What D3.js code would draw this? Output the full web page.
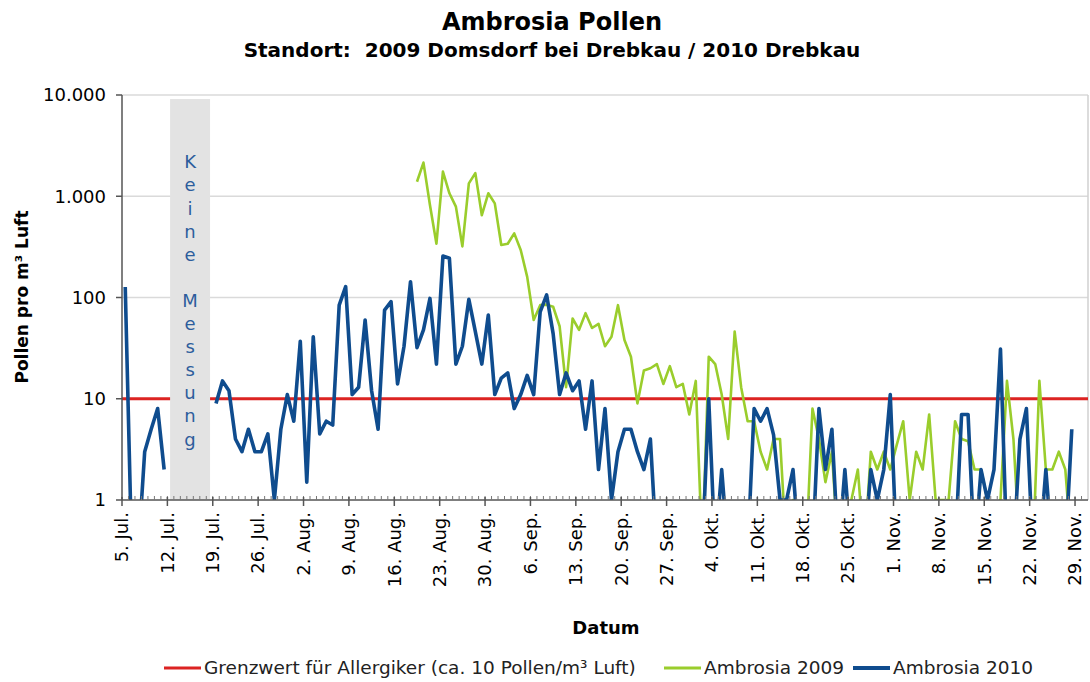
<!DOCTYPE html>
<html>
<head>
<meta charset="utf-8">
<script src="https://cdn.jsdelivr.net/npm/d3@7"></script>
<style>
  body { margin: 0; background: #fff; }
  svg { font-family: "DejaVu Sans", Verdana, sans-serif; }
</style>
</head>
<body>
<div id="chart"></div>
<script>
// Ambrosia Pollen, daily counts (Pollen pro m³ Luft), log axis

const axisStart = new Date(2010, 6, 5)
const axisEnd = new Date(2010, 11, 1)

// 2010 Drebkau, one value per day from 5. Jul. (null = keine Messung, 0 = nichts gefunden)
const start2010 = new Date(2010, 6, 5)
const ambrosia2010 = [
  127, 0, 0, 3, 5, 8, 2,
  null, null, null, null, null, null, null,
  9, 15, 12, 4, 3, 5, 3, 3, 4.5, 1, 5, 11, 6, 37, 1.5, 41, 4.5, 6, 5.5, 84, 128,
  11, 13, 60, 12, 5, 75, 91, 14, 33, 143, 32, 48, 98, 22, 257, 244, 22, 33, 96,
  46, 22, 67, 11, 16, 18, 8, 11, 17, 11, 72, 106, 44, 11, 18, 12, 15, 5, 15, 2,
  8, 1, 3, 5, 5, 3, 2, 4, 0, 0, 0, 0, 0, 0, 0, 0, 10, 0, 2, 0, 0, 0, 0, 8, 6, 8,
  4.4, 1, 1, 2, 0, 0, 0, 8, 2, 5, 0, 2, 0, 0, 0, 2, 1, 2, 11, 0, 0, 0, 0, 0, 0,
  0, 0, 0, 0, 7, 7, 0, 2, 1, 2, 31, 0, 0, 4, 8, 0, 0, 2, 0, 0, 0, 5,
]

// 2009 Domsdorf, one value per day from 19. Aug.
const start2009 = new Date(2010, 7, 19)
const ambrosia2009 = [
  1390, 2150, 820, 340, 1750, 1070, 790, 320, 1340, 1690, 650, 1070, 850, 330,
  340, 430, 295, 160, 60, 84, 85, 81, 52, 13, 62, 48, 70, 50, 55, 33, 41, 84, 38,
  26, 9, 19, 20, 22, 14, 21, 13, 14, 7, 15, 0, 26, 22, 11, 4, 46, 13, 6, 6, 3, 2,
  4, 4, 0, 1, 0, 0, 8, 4, 1.5, 3, 0, 0, 1, 2, 0, 3, 2, 3, 2, 3.5, 6, 1, 3, 2, 7,
  1, 1, 1, 6, 4, 3.8, 2, 2, 1, 0, 1, 15, 4, 0, 0, 0, 15, 2, 2, 3, 2, 0,
]

const threshold = 10
const noMeasurement = [new Date(2010, 6, 12, 10), new Date(2010, 6, 18, 14)]
const noMeasurementText = "Keine Messung"

const yTicks = [1, 10, 100, 1000, 10000]
const monthNames = ["Jan.", "Feb.", "Mär.", "Apr.", "Mai", "Jun.", "Jul.", "Aug.", "Sep.", "Okt.", "Nov.", "Dez."]

const legendItems = [
  { label: "Grenzwert für Allergiker (ca. 10 Pollen/m³ Luft)", color: "#dc2322", x: 164 },
  { label: "Ambrosia 2009", color: "#9acd2c", x: 664 },
  { label: "Ambrosia 2010", color: "#0f4c8e", x: 853 },
]

const W = 1090
const H = 682
const margin = { top: 95, right: 2, bottom: 182, left: 122 }
const width = W - margin.left - margin.right
const height = H - margin.top - margin.bottom

const svg = d3.select("#chart").append("svg").attr("width", W).attr("height", H)

const x = d3.scaleTime().domain([axisStart, axisEnd]).range([margin.left, margin.left + width])
const y = d3.scaleLog().domain([1, 10000]).range([margin.top + height, margin.top])

// values of 0 cannot sit on a log axis: draw them below the plot and let the clip cut them
const zeroDraw = 0.3

function toPoints(start, values) {
  return values.map((v, i) => ({ date: d3.timeHour.offset(d3.timeDay.offset(start, i), 12), v }))
}

// Titles
svg
  .append("text")
  .attr("x", 552)
  .attr("y", 30)
  .attr("text-anchor", "middle")
  .style("font-size", "24px")
  .style("font-weight", "bold")
  .text("Ambrosia Pollen")

svg
  .append("text")
  .attr("x", 552)
  .attr("y", 57)
  .attr("text-anchor", "middle")
  .style("font-size", "20px")
  .style("font-weight", "bold")
  .style("white-space", "pre")
  .text("Standort:  2009 Domsdorf bei Drebkau / 2010 Drebkau")

// Grid lines
svg
  .append("g")
  .selectAll("line")
  .data(yTicks.slice(1))
  .enter()
  .append("line")
  .attr("x1", margin.left)
  .attr("x2", margin.left + width)
  .attr("y1", (d) => y(d))
  .attr("y2", (d) => y(d))
  .style("stroke", "#dadada")
  .style("stroke-width", 1.5)

svg
  .append("line")
  .attr("x1", margin.left + width)
  .attr("x2", margin.left + width)
  .attr("y1", margin.top)
  .attr("y2", margin.top + height)
  .style("stroke", "#d0d0d0")
  .style("stroke-width", 1.5)

// Threshold line
svg
  .append("line")
  .attr("x1", margin.left)
  .attr("x2", margin.left + width)
  .attr("y1", y(threshold))
  .attr("y2", y(threshold))
  .style("stroke", legendItems[0].color)
  .style("stroke-width", 3)

// Keine Messung band
svg
  .append("rect")
  .attr("x", x(noMeasurement[0]))
  .attr("y", margin.top + 4)
  .attr("width", x(noMeasurement[1]) - x(noMeasurement[0]))
  .attr("height", height - 4)
  .style("fill", "#e3e3e3")

const bandMid = (x(noMeasurement[0]) + x(noMeasurement[1])) / 2
svg
  .append("g")
  .selectAll("text")
  .data(noMeasurementText.split(""))
  .enter()
  .append("text")
  .attr("x", bandMid)
  .attr("y", (d, i) => 162 + i * 23.1)
  .attr("dy", "0.35em")
  .attr("text-anchor", "middle")
  .style("font-size", "18px")
  .style("fill", "#2d5d9c")
  .text((d) => d)

// Series
svg
  .append("defs")
  .append("clipPath")
  .attr("id", "plot-clip")
  .append("rect")
  .attr("x", margin.left)
  .attr("y", margin.top)
  .attr("width", width)
  .attr("height", height)

const line = d3
  .line()
  .defined((d) => d.v !== null)
  .x((d) => x(d.date))
  .y((d) => y(d.v === 0 ? zeroDraw : d.v))

const plot = svg.append("g").attr("clip-path", "url(#plot-clip)")

plot
  .append("path")
  .datum(toPoints(start2009, ambrosia2009))
  .attr("d", line)
  .style("fill", "none")
  .style("stroke", legendItems[1].color)
  .style("stroke-width", 2.6)
  .style("stroke-linejoin", "round")

plot
  .append("path")
  .datum(toPoints(start2010, ambrosia2010))
  .attr("d", line)
  .style("fill", "none")
  .style("stroke", legendItems[2].color)
  .style("stroke-width", 3.6)
  .style("stroke-linejoin", "round")

// Axes
const axisColor = "#555"

const yAxis = svg.append("g").attr("transform", `translate(${margin.left},0)`)
yAxis
  .append("line")
  .attr("y1", margin.top)
  .attr("y2", margin.top + height)
  .style("stroke", axisColor)
  .style("stroke-width", 1.5)
yAxis
  .selectAll(".tick")
  .data(yTicks)
  .enter()
  .append("line")
  .attr("x1", -6)
  .attr("x2", 0)
  .attr("y1", (d) => y(d))
  .attr("y2", (d) => y(d))
  .style("stroke", axisColor)
  .style("stroke-width", 1.5)
yAxis
  .selectAll(".label")
  .data(yTicks)
  .enter()
  .append("text")
  .attr("x", -16)
  .attr("y", (d) => y(d))
  .attr("dy", "0.35em")
  .attr("text-anchor", "end")
  .style("font-size", "18px")
  .text((d) => d3.format(",")(d).replace(/,/g, "."))

const xAxis = svg.append("g").attr("transform", `translate(0,${margin.top + height})`)
xAxis
  .append("line")
  .attr("x1", margin.left)
  .attr("x2", margin.left + width)
  .style("stroke", axisColor)
  .style("stroke-width", 1.5)

xAxis
  .selectAll(".minor")
  .data(d3.timeDay.range(axisStart, axisEnd))
  .enter()
  .append("line")
  .attr("x1", (d) => x(d))
  .attr("x2", (d) => x(d))
  .attr("y1", -4)
  .attr("y2", 0)
  .style("stroke", "#777")
  .style("stroke-width", 1)

const weekTicks = d3.timeMonday.range(axisStart, axisEnd)
xAxis
  .selectAll(".major")
  .data(weekTicks)
  .enter()
  .append("line")
  .attr("x1", (d) => x(d))
  .attr("x2", (d) => x(d))
  .attr("y1", -3)
  .attr("y2", 6)
  .style("stroke", axisColor)
  .style("stroke-width", 1.5)

xAxis
  .selectAll(".label")
  .data(weekTicks)
  .enter()
  .append("text")
  .attr("transform", (d) => `translate(${x(d)},12) rotate(-90)`)
  .attr("dy", "0.35em")
  .attr("text-anchor", "end")
  .style("font-size", "18px")
  .text((d) => `${d.getDate()}. ${monthNames[d.getMonth()]}`)

// Axis titles
svg
  .append("text")
  .attr("transform", "translate(28,297) rotate(-90)")
  .attr("text-anchor", "middle")
  .style("font-size", "17px")
  .style("font-weight", "bold")
  .text("Pollen pro m³ Luft")

svg
  .append("text")
  .attr("x", 606)
  .attr("y", 634)
  .attr("text-anchor", "middle")
  .style("font-size", "18px")
  .style("font-weight", "bold")
  .text("Datum")

// Legend
const legend = svg
  .append("g")
  .selectAll("g")
  .data(legendItems)
  .enter()
  .append("g")
  .attr("transform", (d) => `translate(${d.x},668)`)

legend
  .append("line")
  .attr("x1", 0)
  .attr("x2", 37)
  .style("stroke", (d) => d.color)
  .style("stroke-width", (d, i) => (i === 2 ? 4 : 3))

legend
  .append("text")
  .attr("x", 40)
  .attr("dy", "0.35em")
  .style("font-size", "18.5px")
  .style("fill", "#222")
  .text((d) => d.label)
</script>
</body>
</html>
